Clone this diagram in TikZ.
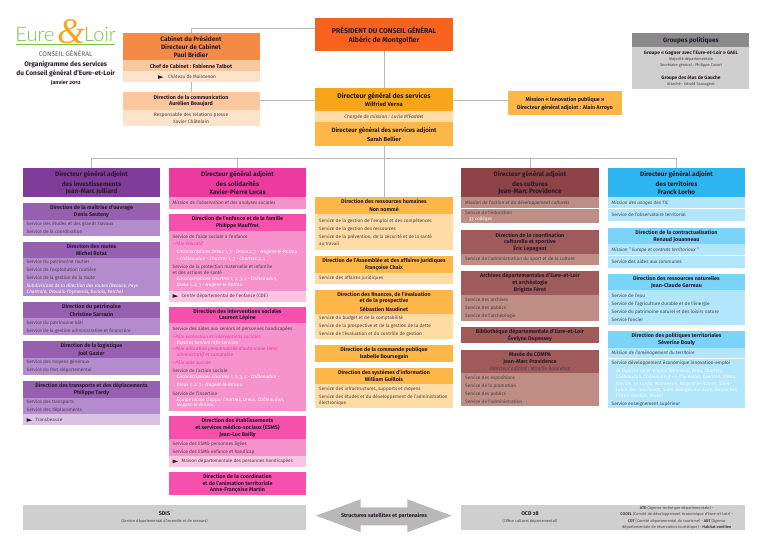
\documentclass[tikz,border=0pt]{standalone}
\usepackage{fontspec}
\setmainfont[Numbers=OldStyle]{Fira Sans}
\newfontfamily\logofont{Lato Light}
\newfontfamily\ampfont{Liberation Serif}
\newcommand{\colinv}{91.5}
\newcommand{\colsol}{237.5}
\newcommand{\colress}{384}
\newcommand{\colcult}{530}
\newcommand{\colterr}{676.5}
\definecolor{pres}{HTML}{F7621E}
\definecolor{cab}{HTML}{F58A47}
\definecolor{cabb}{HTML}{FBC79F}
\definecolor{cabc}{HTML}{FEE3CB}
\definecolor{dgs}{HTML}{F9A51A}
\definecolor{ora}{HTML}{FDB748}
\definecolor{orb}{HTML}{FFDCA5}
\definecolor{vioa}{HTML}{7F3C98}
\definecolor{viob}{HTML}{9560B0}
\definecolor{vioc}{HTML}{B48CCD}
\definecolor{viod}{HTML}{D9C3E3}
\definecolor{rosa}{HTML}{EC3AA0}
\definecolor{rosb}{HTML}{F550AB}
\definecolor{rosc}{HTML}{F793CC}
\definecolor{rosd}{HTML}{FBC4E2}
\definecolor{cula}{HTML}{8E4346}
\definecolor{culb}{HTML}{9F5A5A}
\definecolor{culc}{HTML}{BE8D84}
\definecolor{tera}{HTML}{2CB5EE}
\definecolor{terb}{HTML}{7AD4F9}
\definecolor{terc}{HTML}{B2E6FC}
\definecolor{grya}{HTML}{8A8A8A}
\definecolor{gryb}{HTML}{CFCFCF}
\definecolor{gryc}{HTML}{B8B8B8}
\definecolor{logog}{HTML}{7AC143}
\definecolor{logoo}{HTML}{F5A623}
\definecolor{inkd}{HTML}{2A1A2A}
\definecolor{inkr}{HTML}{4A4048}
\tikzset{
  bandbox/.style={anchor=north west,inner sep=0pt,outer sep=0pt},
  link/.style={draw=black!28,line width=1pt},
  txt/.style={inner sep=0pt,outer sep=0pt,text=inkd},
  dgatext/.style={txt,font=\fontsize{6.4}{7}\selectfont\bfseries},
  headtext/.style={txt,font=\fontsize{5.4}{6}\selectfont\bfseries},
  rowtext/.style={txt,anchor=west,xshift=-64.8pt,text=inkr,font=\fontsize{4.7}{5}\selectfont},
  arrowtext/.style={rowtext,xshift=9pt},
  whitetext/.style={rowtext,text=white,font=\fontsize{4.7}{5}\selectfont\itshape},
  notetext/.style={whitetext,xshift=4pt},
  poletext/.style={rowtext,text=rosa,font=\fontsize{4.7}{5}\selectfont\itshape},
  missiontext/.style={rowtext,font=\fontsize{4.7}{5}\selectfont\itshape},
  midtext/.style={txt,text=inkr,font=\fontsize{4.9}{5}\selectfont},
  midital/.style={midtext,font=\fontsize{4.9}{5}\selectfont\itshape},
  smalltext/.style={txt,text=inkr,font=\fontsize{3.9}{5}\selectfont},
  titletext/.style={txt,font=\fontsize{6.6}{7}\selectfont\bfseries},
}
\newcommand{\band}[6]{%
  \pgfmathsetmacro{\bandh}{#5-#4}%
  \node[bandbox,fill=#2,minimum width=#6pt,minimum height=\bandh pt] (#1) at (#3,#4) {};}
\newcommand{\flag}[2]{\fill[inkd] (#1,#2-1.8) -- (#1+5.4,#2+.2) -- (#1,#2+1.8) -- cycle;}
\begin{document}
\begin{tikzpicture}[x=1pt,y=-1pt]
\useasboundingbox (0,0) rectangle (768,543);

\foreach \bn/\bc/\bx/\ya/\yb/\bw in {
  cabinet/cab/122.7/33/60/137, cabchef/cabb/122.7/60/71/137, cablight/cabc/122.7/71/82/137,
  comm/cabb/122.7/91.7/110/137, commlight/cabc/122.7/110/126/137,
  president/pres/315.3/18/51/137.4,
  dgen/dgs/315.3/87.7/111/137.4, dgenb/orb/315.3/111/122.3/137.4, dgenc/ora/315.3/122.3/146/137.4,
  mission/ora/508.3/91.3/115/113.4,
  groupes/grya/632.3/32.7/47.3/117, groupesb/gryb/632.3/47.3/89/117,
  sdis/gryb/23/504.7/530/283, ocd/gryb/461.3/504.7/530/283.7}
  {\band{\bn}{\bc}{\bx}{\ya}{\yb}{\bw}}

% columns
\foreach \bn/\bc/\ya/\yb in {
  inva/vioa/168.3/197.3,
  invb/viob/203.3/220, invc/vioc/220/236,
  invd/viob/241.7/257.7, inve/vioc/257.7/295.7,
  invf/viob/302.3/318.3, invg/vioc/318.3/335,
  invh/viob/341.3/358, invi/vioc/358/374.7,
  invj/viob/381.3/397.7, invk/vioc/397.7/414.3, invl/viod/414.3/425}
  {\band{\bn}{\bc}{23}{\ya}{\yb}{137}}
\foreach \bn/\bc/\ya/\yb in {
  sola/rosa/168.3/197.3, solb/rosc/197.3/208.7,
  solc/rosb/214/230.7, sold/rosc/230.7/291, sole/rosd/291/302,
  solf/rosb/306.7/322.7, solg/rosc/322.7/410.7,
  solh/rosb/415.7/439.3, soli/rosc/439.3/455.7, solj/rosd/455.7/466.7,
  solk/rosb/471.7/495.3}
  {\band{\bn}{\bc}{169}{\ya}{\yb}{137}}
\foreach \bn/\bc/\ya/\yb in {
  ressa/ora/197.3/214, ressb/orb/214/250.3,
  ressc/ora/256.3/272.7, ressd/orb/272.7/283.7,
  resse/ora/289.7/314, ressf/orb/314/339.3,
  ressg/ora/345/361.7,
  ressh/ora/367.7/384.3, ressi/orb/384.3/408}
  {\band{\bn}{\bc}{315.3}{\ya}{\yb}{137.4}}
\foreach \bn/\bc/\ya/\yb in {
  culta/cula/168.3/197.3, cultb/culc/197.3/208.3, cultc/culc/208.8/223.3,
  cultd/culb/230/253.7, culte/culc/253.7/264.7,
  cultf/culb/271.3/295, cultg/culc/295/320.7,
  culth/culb/326.7/343.3,
  culti/culb/349.7/373, cultj/culc/373/406.3}
  {\band{\bn}{\bc}{461.3}{\ya}{\yb}{137.4}}
\foreach \bn/\bc/\ya/\yb in {
  tera/tera/168.3/197.3, terb/terc/197.3/208.3, terc/terc/208.8/221.3,
  terd/terb/228/244, tere/terc/244/255.3, terf/terc/255.8/268,
  terg/terb/274/290.3, terh/terc/290.3/325.3,
  teri/terb/331.3/347.7, terj/terc/347.7/358.3, terk/terc/358.8/408}
  {\band{\bn}{\bc}{608}{\ya}{\yb}{137}}

% connectors
\coordinate (cabtop) at (cabinet.north |- 0,29);
\coordinate (bus) at (383.3,158.7);
\draw[link] (cabinet.north) -- (cabtop) -- (cabtop -| president.west);
\draw[link] (cablight.south) -- (comm.north);
\draw[link] (president.south) -- (dgen.north);
\draw[link] (comm.east) -- (comm.east -| dgen.west);
\draw[link] (dgen.east |- comm.east) -- (mission.west |- comm.east);
\draw[link] (dgenc.south) -- (ressa.north);
\draw[link] (inva.north) -- (inva.north |- bus) -- (tera.north |- bus) -- (tera.north);
\draw[link] (sola.north) -- (sola.north |- bus);
\draw[link] (culta.north) -- (culta.north |- bus);

% logo
\node[txt,text=logog,font=\logofont\fontsize{20}{20}\selectfont,anchor=base west] (eure) at (15.5,42) {Eure};
\node[txt,text=logog,font=\logofont\fontsize{20}{20}\selectfont,anchor=base east] (loir) at (116,42) {Loir};
\draw[logog,line width=.6pt] (16,44.4) -- (115,44.4);
\node[txt,text=logoo,font=\ampfont\fontsize{36}{36}\selectfont\itshape] (esper) at (71,32) {\&};
\node[txt,text=black!65,font=\fontsize{6.6}{7}\selectfont] (conseil) at (65.7,54) {CONSEIL GÉNÉRAL};

\foreach \tx/\ty/\ts/\tt [count=\i] in {
  65.7/64.3/titletext/{Organigramme des services},
  65.7/73/titletext/{du Conseil général d'Eure-et-Loir},
  65.7/82.3/headtext/{Janvier 2012},
  191/38.7/dgatext/{Cabinet du Président},
  191/47/dgatext/{Directeur de Cabinet},
  191/55/dgatext/{Paul Bridier},
  191/66/headtext/{Chef de Cabinet : Fabienne Talbot},
  191/97/headtext/{Direction de la communication},
  191/104.3/headtext/{Aurélien Beaujard},
  191/115/midtext/{Responsable des relations presse},
  191/121.7/midtext/{Xavier Châtelain},
  384/30/dgatext/{\fontsize{7}{7}\selectfont PRÉSIDENT DU CONSEIL GÉNÉRAL},
  384/40/dgatext/{\fontsize{7}{7}\selectfont Albéric de Montgolfier},
  384/96/dgatext/{\fontsize{6.8}{7}\selectfont Directeur général des services},
  384/104/dgatext/{\fontsize{5.8}{7}\selectfont Wilfried Verna},
  384/117.3/midital/{Chargée de mission : Lucie M'Faddel},
  384/130.7/dgatext/{\fontsize{6.1}{7}\selectfont Directeur général des services adjoint},
  384/138.7/dgatext/{\fontsize{5.8}{7}\selectfont Sarah Bellier},
  565/99.7/headtext/{Mission « Innovation publique »},
  565/107.7/headtext/{Directeur général adjoint : Alain Arroyo},
  691/40.3/dgatext/{Groupes politiques},
  691/52.7/headtext/{\fontsize{4.8}{5}\selectfont Groupe « Gagner avec l'Eure-et-Loir » GAEL},
  691/59/smalltext/{Majorité départementale},
  691/65.3/smalltext/{Secrétaire général : Philippe Cavart},
  691/78/headtext/{\fontsize{4.8}{5}\selectfont Groupe des élus de Gauche},
  691/84.3/smalltext/{Attaché : Gérald Sauvageot},
  164.5/514/headtext/{SDIS},
  164.5/521.3/smalltext/{(Service départemental d'incendie et de secours)},
  530/514/headtext/{OCD 28},
  530/521.3/smalltext/{(Office culturel départemental)},
  676.7/508.3/smalltext/{\textbf{ATD} (Agence technique départementale) -},
  676.7/514.7/smalltext/{\textbf{CODEL} (Comité de développement économique d'Eure-et-Loir) -},
  676.7/521/smalltext/{\textbf{CDT} (Comité départemental du tourisme) - \textbf{ART} (Agence},
  676.7/527.3/smalltext/{départementale de réservation touristique) - \textbf{Habitat eurélien}}}
  {\node[\ts] (top\i) at (\tx,\ty) {\tt};}
\node[rowtext,xshift=64.8pt] (chateau) at (168,77) {Château de Maintenon};
\flag{158}{77}

\fill[gryc] (316,515.7) -- (360.7,499.3) -- (360.7,507.3) -- (407.3,507.3) -- (407.3,499.3) -- (451.7,515.7) -- (407.3,532.3) -- (407.3,525.3) -- (360.7,525.3) -- (360.7,532.3) -- cycle;
\node[headtext] (structures) at (384,515.7) {Structures satellites et partenaires};

\foreach \ty/\ts/\tt [count=\i] in {
  175/dgatext/{Directeur général adjoint},
  184/dgatext/{des investissements},
  191.7/dgatext/{Jean-Marc Julliard},
  207.7/headtext/{Direction de la maîtrise d'ouvrage},
  215/headtext/{Denis Sauteny},
  223.7/rowtext/{Service des études et des grands travaux},
  231.7/rowtext/{Service de la coordination},
  246/headtext/{Direction des routes},
  253.3/headtext/{Michel Rotat},
  262/rowtext/{Service du patrimoine routier},
  270/rowtext/{Service de l'exploitation routière},
  277.7/rowtext/{Service de la gestion de la route},
  286/whitetext/{Subdivisions de la direction des routes (Beauce, Pays},
  292.3/whitetext/{Chartrain, Drouais-Thymerais, Dunois, Perche)},
  307/headtext/{Direction du patrimoine},
  314/headtext/{Christine Sarrazin},
  323/rowtext/{Service du patrimoine bâti},
  331/rowtext/{Service de la gestion administrative et financière},
  346.3/headtext/{Direction de la logistique},
  353.3/headtext/{Joël Gazier},
  362.3/rowtext/{Service des moyens généraux},
  370.3/rowtext/{Service du Parc départemental},
  386/headtext/{Direction des transports et des déplacements},
  393/headtext/{Philippe Tardy},
  402/rowtext/{Service des transports},
  410/rowtext/{Service des déplacements},
  420/arrowtext/{Transbeauce}}
  {\node[\ts] (inv\i) at (\colinv,\ty) {\tt};}
\flag{26.7}{420}

\foreach \ty/\ts/\tt [count=\i] in {
  175/dgatext/{Directeur général adjoint},
  184/dgatext/{des solidarités},
  191.7/dgatext/{Xavier-Pierre Lucas},
  203.3/missiontext/{Mission de l'observation et des analyses sociales},
  218.7/headtext/{Direction de l'enfance et de la famille},
  226/headtext/{Philippe Mauffret},
  236.3/rowtext/{Service de l'aide sociale à l'enfance},
  244/poletext/{• Pôle éducatif},
  252.3/notetext/{Circonscriptions Dreux 1, 3 - Dreux 2, 3 - Nogent-le-Rotrou},
  258.7/notetext/{- Châteaudun - Chartres 1, 3 - Chartres 2, 4},
  266.7/rowtext/{Service de la protection maternelle et infantile},
  272.7/rowtext/{et des actions de santé},
  279/notetext/{Circonscriptions Chartres 1, 2, 3, 4 - Châteaudun,},
  285.3/notetext/{Dreux 1, 2, 3 - Nogent-le-Rotrou},
  296/arrowtext/{Centre départemental de l'enfance (CDE)},
  311/headtext/{Direction des interventions sociales},
  318.3/headtext/{Laurent Lépine},
  328.7/rowtext/{Service des aides aux seniors et personnes handicapées},
  336.3/poletext/{• Pôle évaluation et interventions sociales},
  342.7/notetext/{Espaces Seniors info-services},
  348.7/poletext/{• Pôle allocation personnalisée d'autonomie (APA)},
  355/notetext/{\textcolor{rosa}{administratif et comptable}},
  362.7/poletext/{• Pôle aide sociale},
  371/rowtext/{Service de l'action sociale},
  377.3/notetext/{Circonscriptions Chartres 1, 2, 3, 4 - Châteaudun -},
  385.3/notetext/{Dreux 1, 2, 3 - Nogent-le-Rotrou},
  393.3/rowtext/{Service de l'insertion},
  399.7/notetext/{Équipe locale d'appui Chartres, Dreux, Châteaudun,},
  405.7/notetext/{Nogent-le-Rotrou},
  420.7/headtext/{Direction des établissements},
  427.7/headtext/{et services médico-sociaux (ESMS)},
  434.7/headtext/{Jean-Luc Bailly},
  444/rowtext/{Service des ESMS-personnes âgées},
  451.7/rowtext/{Service des ESMS-enfance et handicap},
  461.3/arrowtext/{Maison départementale des personnes handicapées},
  476.3/headtext/{Direction de la coordination},
  483.3/headtext/{et de l'animation territoriale},
  490.3/headtext/{Anne-Françoise Martin}}
  {\node[\ts] (sol\i) at (\colsol,\ty) {\tt};}
\flag{172.7}{296}
\flag{172.7}{461.3}

\foreach \ty/\ts/\tt [count=\i] in {
  201.7/headtext/{Direction des ressources humaines},
  209.3/headtext/{Non nommé},
  221.3/rowtext/{Service de la gestion de l'emploi et des compétences},
  229.3/rowtext/{Service de la gestion des ressources},
  237/rowtext/{Service de la prévention, de la sécurité et de la santé},
  243.7/rowtext/{au travail},
  261/headtext/{Direction de l'Assemblée et des affaires juridiques},
  268.3/headtext/{Françoise Chaix},
  278.3/rowtext/{Service des affaires juridiques},
  295/headtext/{Direction des finances, de l'évaluation},
  301.3/headtext/{et de la prospective},
  309/headtext/{Sébastien Naudinet},
  318.3/rowtext/{Service du budget et de la comptabilité},
  326.3/rowtext/{Service de la prospective et de la gestion de la dette},
  334.3/rowtext/{Service de l'évaluation et du contrôle de gestion},
  350/headtext/{Direction de la commande publique},
  357/headtext/{Isabelle Boursegain},
  372.7/headtext/{Direction des systèmes d'information},
  379.7/headtext/{William Guillois},
  389.3/rowtext/{Service des infrastructures, supports et moyens},
  397.3/rowtext/{Service des études et du développement de l'administration},
  403.3/rowtext/{électronique}}
  {\node[\ts] (ress\i) at (\colress,\ty) {\tt};}

\foreach \ty/\ts/\tt [count=\i] in {
  175/dgatext/{Directeur général adjoint},
  183.7/dgatext/{des cultures},
  191.7/dgatext/{Jean-Marc Providence},
  203/missiontext/{Mission de l'action et du développement culturels},
  212.7/rowtext/{Service de l'éducation},
  219/notetext/{33 collèges},
  235.3/headtext/{Direction de la coordination},
  242/headtext/{culturelle et sportive},
  249/headtext/{Éric Lepagnot},
  259.3/rowtext/{Service de l'administration du sport et de la culture},
  276/headtext/{Archives départementales d'Eure-et-Loir},
  283/headtext/{et archéologie},
  290/headtext/{Brigitte Féret},
  300/rowtext/{Service des archives},
  308/rowtext/{Service des publics},
  316/rowtext/{Service de l'archéologie},
  331.7/headtext/{Bibliothèque départementale d'Eure-et-Loir},
  338.7/headtext/{Évelyne Dupessey},
  354.3/headtext/{Musée du COMPA},
  361.7/headtext/{Jean-Marc Providence},
  368.7/midital/{Directeur adjoint : Mireille Bonnebas},
  377.7/rowtext/{Service des expositions},
  386/rowtext/{Service de la promotion},
  394/rowtext/{Service des publics},
  402/rowtext/{Service de l'administration}}
  {\node[\ts] (cult\i) at (\colcult,\ty) {\tt};}

\foreach \ty/\ts/\tt [count=\i] in {
  175/dgatext/{Directeur général adjoint},
  183.7/dgatext/{des territoires},
  191.7/dgatext/{Franck Lorho},
  203/missiontext/{Mission des usages des TIC},
  215/rowtext/{Service de l'observatoire territorial},
  232.7/headtext/{Direction de la contractualisation},
  240/headtext/{Renaud Jouanneau},
  250/missiontext/{Mission " Europe et contrats territoriaux "},
  261.7/rowtext/{Service des aides aux communes},
  278.7/headtext/{Direction des ressources naturelles},
  286/headtext/{Jean-Claude Garreau},
  296/rowtext/{Service de l'eau},
  304/rowtext/{Service de l'agriculture durable et de l'énergie},
  312/rowtext/{Service du patrimoine naturel et des loisirs nature},
  320/rowtext/{Service foncier},
  336/headtext/{Direction des politiques territoriales},
  343/headtext/{Séverine Bouly},
  353.3/missiontext/{Mission de l'aménagement du territoire},
  363/rowtext/{Service développement économique innovation-emploi},
  371/notetext/{28 Espaces cyber-emploi (Bonneval, Brou, Chartres,},
  377.3/notetext/{Châteaudun, Châteauneuf-en-Thymerais, Épernon, Dreux,},
  383.7/notetext/{Janville, La Loupe, Maintenon, Nogent-le-Rotrou, Saint-},
  389.7/notetext/{Lubin-des-Joncherets, Saint-Georges-sur-Eure, Senonches,},
  395.7/notetext/{Thiron-Gardais, Voves)},
  404/rowtext/{Service enseignement supérieur}}
  {\node[\ts] (terr\i) at (\colterr,\ty) {\tt};}
\end{tikzpicture}
\end{document}
